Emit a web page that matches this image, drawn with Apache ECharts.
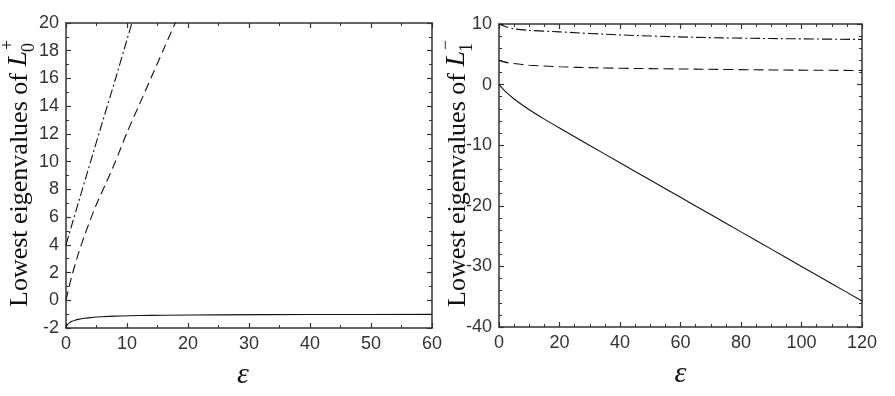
<!DOCTYPE html>
<html><head><meta charset="utf-8">
<script src="https://cdn.jsdelivr.net/npm/echarts@6/dist/echarts.min.js"></script>
<style>html,body{margin:0;padding:0;background:#fff}#c{width:895px;height:396px}</style>
</head><body><div id="c"></div>
<script>
// ---- data ----
const leftSolid = [[0,-2],[0.1,-1.86],[0.25,-1.76],[0.5,-1.65],[1,-1.52],[1.5,-1.44],[2,-1.38],[3,-1.3],[4,-1.25],[5,-1.21],[7,-1.16],[9,-1.13],[12,-1.1],[16,-1.08],[25,-1.05],[40,-1.03],[60,-1.02]];
const leftDashed = [[0,0],[0.5,0.96],[1,1.83],[2,3.33],[3,4.63],[4,5.82],[5,6.93],[6.5,8.4],[8,9.9],[10,12.1],[12,14.1],[14,16.1],[16,18.1],[18,20.1]];
const leftDashDot = [[0,4.0],[1,5.5],[2,7.0],[4,9.95],[6,12.9],[8,15.8],[10,18.8],[11,20.3]];
const rightSolid = [[0,0],[1,-0.56],[2,-1.07],[5,-2.37],[10,-4.15],[15,-5.7],[20,-7.17],[30,-10.05],[40,-12.9],[50,-15.75],[60,-18.6],[70,-21.45],[80,-24.3],[90,-27.15],[100,-30.0],[110,-32.85],[120,-35.7]];
const rightDashed = [[0,4.0],[3,3.6],[10,3.2],[20,2.95],[32,2.77],[50,2.63],[65,2.55],[90,2.42],[120,2.33]];
const rightDashDot = [[0,10],[2.5,9.5],[5,9.2],[10,8.95],[20,8.7],[40,8.2],[65,7.8],[90,7.6],[120,7.45]];
const leftXTicks = {min:0, max:60, interval:10};
const leftYTicks = {min:-2, max:20, interval:2};
const rightXTicks = {min:0, max:120, interval:20};
const rightYTicks = {min:-40, max:10, interval:10};
const xName = 'ε';
const titleMain = 'Lowest eigenvalues of ';
const titleLeft = {letter:'L', sub:'0', sup:'+'};
const titleRight = {letter:'L', sub:'1', sup:'−'};

// ---- styling ----
const axisColor = '#333';
const lineColor = '#111';
const labelFont = {fontSize:18, color:'#333', fontFamily:'"Liberation Sans", Arial, sans-serif'};

function axis(gridIndex, pos, t, minorSplit, showLabels, name, namePad) {
  const a = {
    gridIndex, type:'value', position:pos, min:t.min, max:t.max, interval:t.interval,
    axisLine:{show:true, onZero:false, lineStyle:{color:axisColor, width:1.5}},
    axisTick:{show:true, inside:true, length:5, lineStyle:{color:axisColor, width:1.2}},
    minorTick:{show:true, splitNumber:minorSplit, length:3, lineStyle:{color:axisColor, width:1}},
    splitLine:{show:false}, minorSplitLine:{show:false},
    axisLabel:Object.assign({show:showLabels, margin:7, showMinLabel:true, showMaxLabel:true}, labelFont)
  };
  if (name) {
    a.name = name; a.nameLocation = 'middle'; a.nameGap = 32;
    a.nameTextStyle = {fontSize:30, fontFamily:'"Liberation Serif", serif', fontStyle:'italic', color:'#111', padding:namePad || 0};
  }
  return a;
}

function series(xi, yi, data, type) {
  return {type:'line', xAxisIndex:xi, yAxisIndex:yi, data, showSymbol:false, smooth:0.25,
    lineStyle:{color:lineColor, width:1.1, type}, silent:true, animation:false};
}

const ctx = document.createElement('canvas').getContext('2d');
function yTitle(cx, yStart, parts) {
  const fs = 26, lfs = 28, sfs = 18;
  const ff = '"Liberation Serif", serif';
  ctx.font = fs + 'px "Liberation Serif"';
  const w1 = ctx.measureText(titleMain).width;
  ctx.font = 'italic ' + lfs + 'px "Liberation Serif"';
  const wL = ctx.measureText(parts.letter).width;
  return {type:'group', x:cx, y:yStart, rotation:Math.PI/2, silent:true, children:[
    {type:'text', x:0, y:0, style:{text:titleMain, fontSize:fs, fontFamily:ff, fill:'#111', align:'left', verticalAlign:'middle'}},
    {type:'text', x:w1, y:-1, style:{text:parts.letter, fontSize:lfs, fontStyle:'italic', fontFamily:ff, fill:'#111', align:'left', verticalAlign:'middle'}},
    {type:'text', x:w1+wL-1, y:9, style:{text:parts.sub, fontSize:sfs, fontFamily:ff, fill:'#111', align:'left', verticalAlign:'middle'}},
    {type:'text', x:w1+wL+1, y:-12, style:{text:parts.sup, fontSize:sfs, fontFamily:ff, fill:'#111', align:'left', verticalAlign:'middle'}}
  ]};
}

const chart = echarts.init(document.getElementById('c'), null, {renderer:'canvas'});
chart.setOption({
  animation:false,
  backgroundColor:'#fff',
  grid:[
    {left:66, top:23, width:366, height:305},
    {left:499, top:24, width:363, height:303}
  ],
  xAxis:[
    axis(0,'bottom',leftXTicks,2,true,xName,[0,12,0,0]),
    axis(0,'top',leftXTicks,2,false),
    axis(1,'bottom',rightXTicks,4,true,xName),
    axis(1,'top',rightXTicks,4,false)
  ],
  yAxis:[
    axis(0,'left',leftYTicks,2,true),
    axis(0,'right',leftYTicks,2,false),
    axis(1,'left',rightYTicks,5,true),
    axis(1,'right',rightYTicks,5,false)
  ],
  series:[
    series(0,0,leftSolid,'solid'),
    series(0,0,leftDashed,[9,5]),
    series(0,0,leftDashDot,[9,3,2,3]),
    series(2,2,rightSolid,'solid'),
    series(2,2,rightDashed,[10,5]),
    series(2,2,rightDashDot,[10,3,2,3])
  ],
  graphic:[
    yTitle(20, 307, titleLeft),
    yTitle(458, 307, titleRight)
  ]
});
</script></body></html>
